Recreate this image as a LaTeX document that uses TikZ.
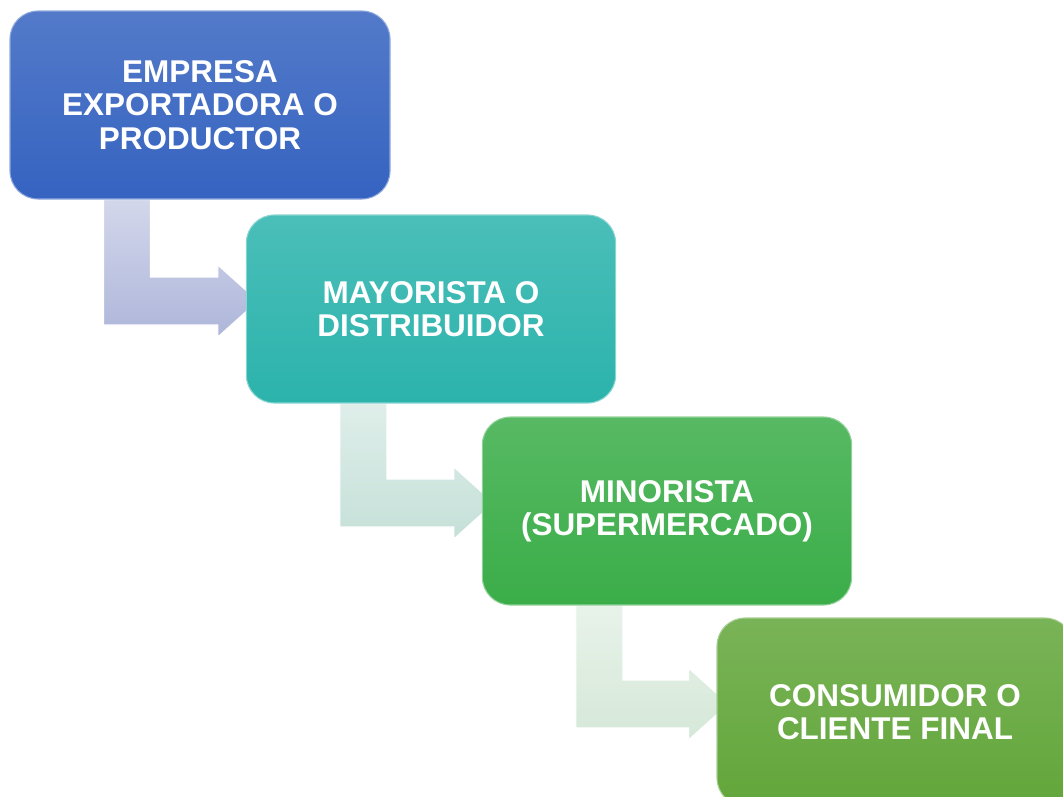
\documentclass[tikz,border=0pt]{standalone}
\usepackage{fontspec}
\setmainfont{Liberation Sans}
\usepackage{tikz}
\usetikzlibrary{calc, backgrounds}
\definecolor{cProd}{HTML}{3563C0}
\definecolor{cMayor}{HTML}{2BB3AC}
\definecolor{cMinor}{HTML}{3AAD48}
\definecolor{cCons}{HTML}{62A63A}
\definecolor{cBendA}{HTML}{AEB6DA}
\definecolor{cBendB}{HTML}{C5E0D8}
\definecolor{cBendC}{HTML}{D5E8D8}

\begin{document}
\begin{tikzpicture}[x=0.75pt, y=-0.75pt,
  etapa/.style={rounded corners=21pt, minimum width=277pt, minimum height=141pt,
                align=center, text=white, inner sep=4pt,
                font=\fontsize{23.6}{25}\selectfont\bfseries,
                draw=#1!55!white, line width=0.8pt,
                top color=#1!85!white, bottom color=#1},
  bend/.style={draw=white, line width=0.8pt, top color=#1!55!white, bottom color=#1}]
\useasboundingbox (0,0) rectangle (1063,796);
\node[etapa=cProd, minimum width=285pt] (prod) at (200,105) {EMPRESA\\EXPORTADORA O\\PRODUCTOR};
\node[etapa=cMayor] (mayor) at (431,309) {MAYORISTA O\\DISTRIBUIDOR};
\node[etapa=cMinor] (minor) at (667,511) {MINORISTA\\(SUPERMERCADO)};
\node[etapa=cCons, minimum width=267pt] (cons) at (895,712) {CONSUMIDOR O\\CLIENTE FINAL};
\begin{scope}[on background layer]
\foreach \a/\b/\c in {prod/mayor/cBendA, mayor/minor/cBendB, minor/cons/cBendC}
  \shade[bend=\c] ($(\a.south west)+(94,0)$) coordinate (s) -- ++(47,0)
    |- ($(\b.west)+(-28,-32)$) -- ++(0,-12) -- ($(\b.west)+(12,-8)$)
    -- ($(\b.west)+(-28,28)$) -- ++(0,-12) -| (s) -- cycle;
\end{scope}
\end{tikzpicture}
\end{document}
